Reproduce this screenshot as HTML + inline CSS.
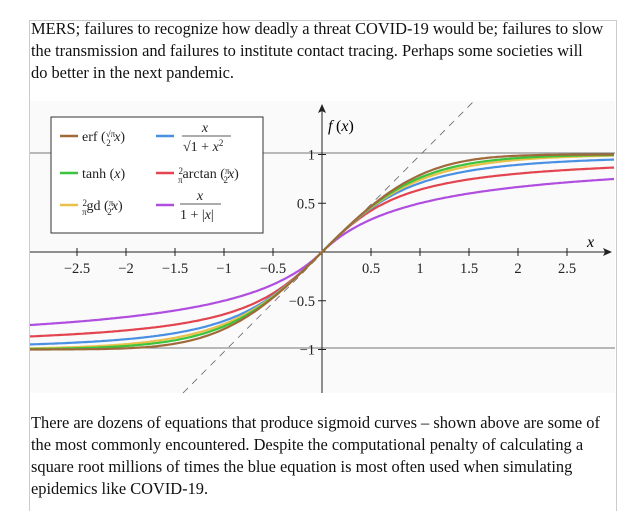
<!DOCTYPE html>
<html><head><meta charset="utf-8"><style>
body{margin:0;background:#fff;width:638px;height:503px;overflow:hidden;position:relative;font-family:"Liberation Serif",serif;}
.box{position:absolute;left:29px;top:20px;width:586px;height:490px;border-left:1px solid #ccc;border-right:1px solid #ccc;border-top:1px solid #ccc;}
.t{position:absolute;left:31px;font-size:16.4px;line-height:22px;color:#111;width:620px;white-space:nowrap;}
</style></head><body>
<div class="box"></div>
<div class="t" style="top:18px">MERS; failures to recognize how deadly a threat COVID-19 would be; failures to slow<br>the transmission and failures to institute contact tracing. Perhaps some societies will<br>do better in the next pandemic.</div>
<svg id="s" style="position:absolute;left:0;top:0" width="638" height="503" font-family="Liberation Serif, serif">
<rect x="30" y="101" width="585" height="292" fill="#fafafa"/>
<line x1="30" y1="153" x2="615" y2="153" stroke="#777" stroke-width="1"/>
<line x1="30" y1="348" x2="615" y2="348" stroke="#777" stroke-width="1"/>
<line x1="183" y1="393" x2="475" y2="100" stroke="#666" stroke-dasharray="7,6" stroke-width="0.8"/>
<line x1="30" y1="252" x2="608" y2="252" stroke="#222" stroke-width="1"/>
<path d="M612,252 l-9,-4 2,4 -2,4z" fill="#222"/>
<line x1="322" y1="393" x2="322" y2="110" stroke="#222" stroke-width="1"/>
<path d="M322,104 l-4,9 4,-2 4,2z" fill="#222"/>
<g id="c" fill="none" stroke-width="2.2"></g>
<g font-size="14.5" fill="#222" id="lab"></g>
<text x="328" y="131" font-size="16" font-style="italic">f</text><text x="336" y="131" font-size="16">(<tspan font-style="italic">x</tspan>)</text>
<text x="587" y="247" font-size="16" font-style="italic">x</text>
<rect x="51" y="117" width="212" height="116" fill="#fff" stroke="#333" stroke-width="1"/>
<g stroke-width="2.5">
<line x1="60" y1="136" x2="78" y2="136" stroke="#a0693a"/>
<line x1="156" y1="136" x2="174" y2="136" stroke="#4a90e2"/>
<line x1="60" y1="173" x2="78" y2="173" stroke="#3cc43c"/>
<line x1="156" y1="173" x2="174" y2="173" stroke="#e2454f"/>
<line x1="60" y1="205" x2="78" y2="205" stroke="#e8c04a"/>
<line x1="156" y1="205" x2="174" y2="205" stroke="#b04ee0"/>
</g>
<g font-size="14" fill="#222">
<text x="82" y="141">erf (<tspan font-size="9" dy="-4">√π</tspan><tspan font-size="9" dx="-9" dy="9">2</tspan><tspan dy="-5" font-style="italic"> x</tspan>)</text>
<text x="82" y="178">tanh (<tspan font-style="italic">x</tspan>)</text>
<text x="82" y="210"><tspan font-size="9" dy="-4">2</tspan><tspan font-size="9" dx="-5" dy="9">π</tspan><tspan dy="-5">gd (</tspan><tspan font-size="9" dy="-4">π</tspan><tspan font-size="9" dx="-6" dy="9">2</tspan><tspan dy="-5" font-style="italic">x</tspan>)</text>
<text x="205" y="132" font-style="italic" text-anchor="middle">x</text>
<line x1="182" y1="136" x2="231" y2="136" stroke="#222" stroke-width="0.7"/>
<text x="183" y="151">√1 + <tspan font-style="italic">x</tspan><tspan font-size="9" dy="-5">2</tspan></text>
<text x="178" y="178"><tspan font-size="9" dy="-4">2</tspan><tspan font-size="9" dx="-5" dy="9">π</tspan><tspan dy="-5">arctan (</tspan><tspan font-size="9" dy="-4">π</tspan><tspan font-size="9" dx="-6" dy="9">2</tspan><tspan dy="-5" font-style="italic">x</tspan>)</text>
<text x="200" y="200" font-style="italic" text-anchor="middle">x</text>
<line x1="180" y1="204" x2="221" y2="204" stroke="#222" stroke-width="0.7"/>
<text x="180" y="219">1 + |<tspan font-style="italic">x</tspan>|</text>
</g>
</svg>
<div class="t" style="top:412px">There are dozens of equations that produce sigmoid curves – shown above are some of<br>the most commonly encountered. Despite the computational penalty of calculating a<br>square root millions of times the blue equation is most often used when simulating<br>epidemics like COVID-19.</div>
<script>
var ns="http://www.w3.org/2000/svg",s=document.getElementById('s'),c=document.getElementById('c'),lab=document.getElementById('lab');
function X(x){return 322+98*x}function Y(y){return 252-97.5*y}
function erf(x){var t=1/(1+0.3275911*Math.abs(x));var y=1-(((((1.061405429*t-1.453152027)*t)+1.421413741)*t-0.284496736)*t+0.254829592)*t*Math.exp(-x*x);return x<0?-y:y}
var P=Math.PI;
var fs=[[function(x){return x/(1+Math.abs(x))},"#b04ee0"],[function(x){return 2/P*Math.atan(P/2*x)},"#e2454f"],[function(x){return x/Math.sqrt(1+x*x)},"#4a90e2"],[function(x){return 2/P*2*Math.atan(Math.tanh(P/4*x))},"#e8c04a"],[function(x){return Math.tanh(x)},"#3cc43c"],[function(x){return erf(Math.sqrt(P)/2*x)},"#a0693a"]];
fs.forEach(function(f){var d="";for(var x=-2.98;x<=2.981;x+=0.02){d+=(d?"L":"M")+X(x).toFixed(1)+","+Y(f[0](x)).toFixed(1)}var p=document.createElementNS(ns,"path");p.setAttribute("d",d);p.setAttribute("stroke",f[1]);c.appendChild(p)});
function T(x,y,t,a){var e=document.createElementNS(ns,"text");e.setAttribute("x",x);e.setAttribute("y",y);e.setAttribute("text-anchor",a||"middle");e.textContent=t;lab.appendChild(e)}
function L(x1,y1,x2,y2){var e=document.createElementNS(ns,"line");e.setAttribute("x1",x1);e.setAttribute("y1",y1);e.setAttribute("x2",x2);e.setAttribute("y2",y2);e.setAttribute("stroke","#222");s.appendChild(e)}
[-2.5,-2,-1.5,-1,-0.5,0.5,1,1.5,2,2.5].forEach(function(v){L(X(v),248,X(v),256);T(X(v),273,(v<0?"−":"")+Math.abs(v))});
[[1,"1"],[0.5,"0.5"],[-0.5,"−0.5"],[-1,"−1"]].forEach(function(v){L(318,Y(v[0]),326,Y(v[0]));T(315,Y(v[0])+5,v[1],"end")});
</script>
</body></html>
